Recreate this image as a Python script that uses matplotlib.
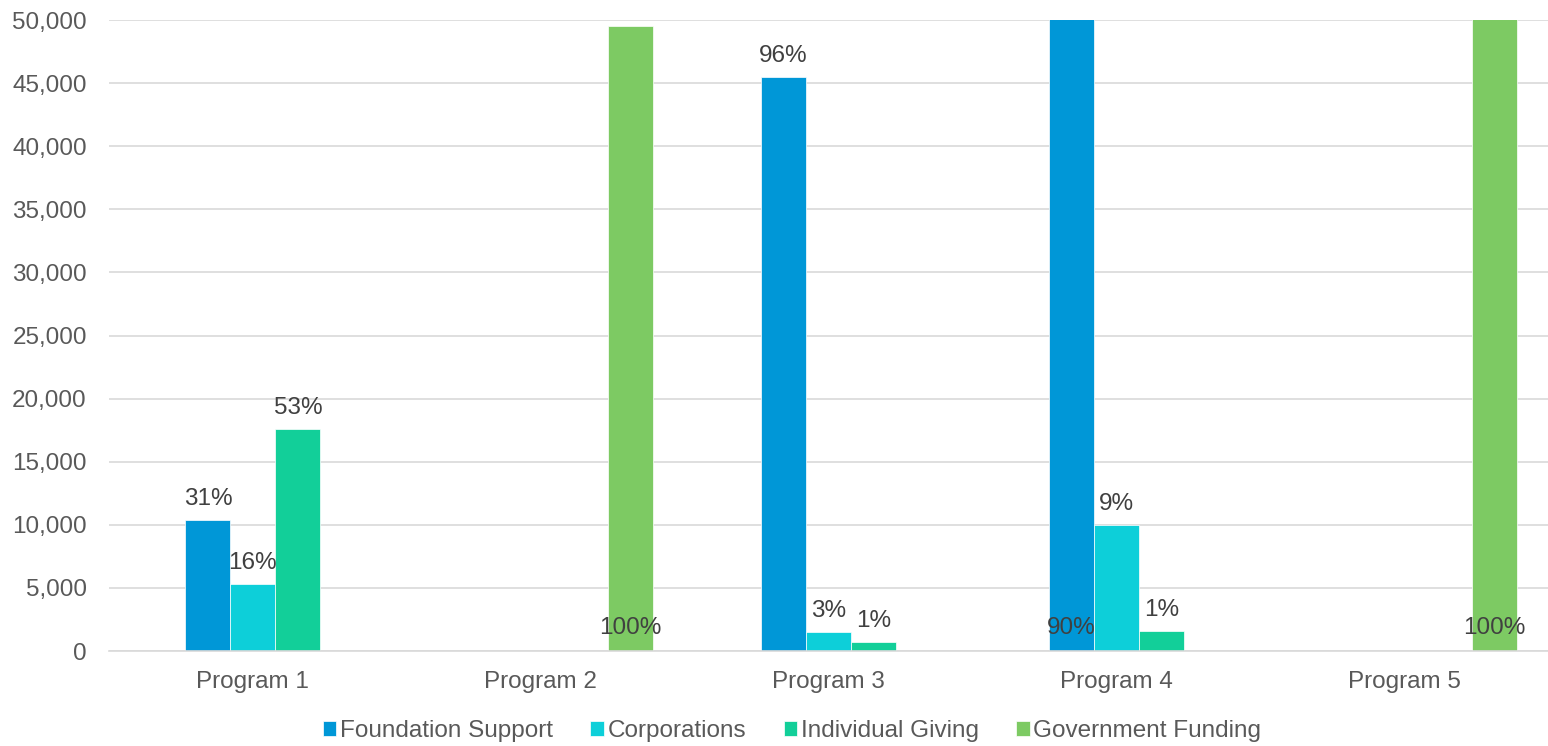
import numpy as np
import matplotlib.pyplot as plt
from matplotlib.ticker import FuncFormatter

programs = ["Program 1", "Program 2", "Program 3", "Program 4", "Program 5"]
series = ["Foundation Support", "Corporations", "Individual Giving", "Government Funding"]

# funding amounts per program (nan = no funding from that source)
foundation = [10400, np.nan, 45500, 100000, np.nan]
corporations = [5300, np.nan, 1500, 10000, np.nan]
individual = [17600, np.nan, 700, 1600, np.nan]
government = [np.nan, 49500, np.nan, np.nan, 60000]

# share of each program's total, as printed on the bars
foundation_pct = ["31%", "", "96%", "90%", ""]
corporations_pct = ["16%", "", "3%", "9%", ""]
individual_pct = ["53%", "", "1%", "1%", ""]
government_pct = ["", "100%", "", "", "100%"]

colors = ["#0097d7", "#0dcfd9", "#12cf99", "#7dca63"]

values = [foundation, corporations, individual, government]
labels = [foundation_pct, corporations_pct, individual_pct, government_pct]

plt.rcParams["font.family"] = ["Liberation Sans", "DejaVu Sans"]

fig = plt.figure(figsize=(15.48, 7.46), dpi=100)
ax = fig.add_axes([109 / 1548, 95 / 746, 1439 / 1548, 631 / 746])

ymax = 50000
x = np.arange(len(programs))
bar_w = 45 / 287.8
fs = 17.5

for i, (vals, pcts) in enumerate(zip(values, labels)):
    pos = x + (i - 1) * bar_w
    ax.bar(pos, vals, width=bar_w, color=colors[i], edgecolor="white",
           linewidth=0.5, label=series[i], zorder=2)
    for px, v, t in zip(pos, vals, pcts):
        if np.isnan(v) or not t:
            continue
        if v > ymax - 2500:
            # label would leave the plot, put it near the base instead
            ax.annotate(t, (px, 0), xytext=(0, 9), textcoords="offset points",
                        ha="center", va="bottom", fontsize=fs, color="#404040",
                        zorder=3)
        else:
            ax.annotate(t, (px, v), xytext=(0, 7), textcoords="offset points",
                        ha="center", va="bottom", fontsize=fs, color="#404040",
                        zorder=3)

ax.set_xlim(-0.5, len(programs) - 0.5)
ax.set_ylim(0, ymax)
ax.set_yticks(np.arange(0, ymax + 1, 5000))
ax.yaxis.set_major_formatter(FuncFormatter(lambda v, p: f"{int(v):,}"))
ax.set_xticks(x)
ax.set_xticklabels(programs)

ax.grid(axis="y", color="#d9d9d9", linewidth=1.2, zorder=0)
ax.set_axisbelow(True)
for s in ["top", "right", "left"]:
    ax.spines[s].set_visible(False)
ax.spines["bottom"].set_color("#d9d9d9")
ax.spines["bottom"].set_linewidth(1.2)

ax.tick_params(axis="y", length=0, pad=16, labelsize=fs, labelcolor="#595959")
ax.tick_params(axis="x", length=0, pad=14.5, labelsize=fs, labelcolor="#595959")

fig.legend(loc="center", bbox_to_anchor=(792 / 1548, 15 / 746), ncol=4,
           frameon=False, fontsize=fs, handlelength=0.55, handleheight=0.55,
           handletextpad=0.15, columnspacing=1.55, labelcolor="#595959")

fig.savefig("out.png", dpi=100)
